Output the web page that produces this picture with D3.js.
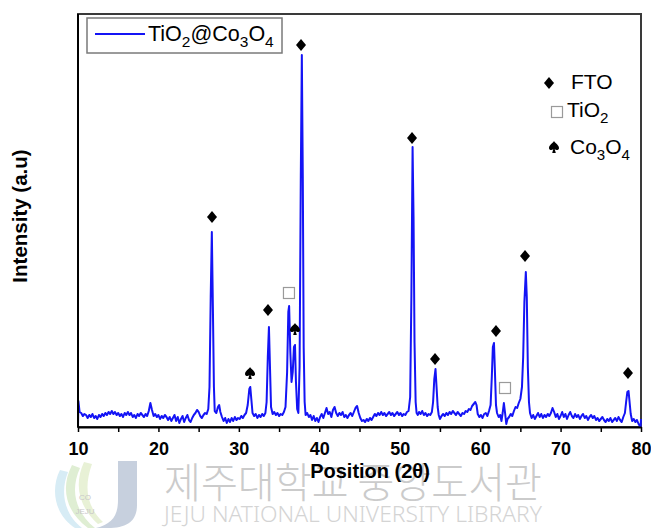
<!DOCTYPE html>
<html><head><meta charset="utf-8">
<script src="https://cdn.jsdelivr.net/npm/d3@7"></script>
<style>body{margin:0;background:#fff}svg{display:block}</style>
</head><body>
<svg id="c" width="651" height="528"></svg>
<script>
// 2θ positions and intensities (a.u.)
const theta = [10.00,10.05,10.2,10.4,10.6,10.8,11.0,11.2,11.4,11.6,11.8,12.0,12.2,12.4,12.6,12.8,13.0,13.2,13.4,13.6,13.8,14.0,14.2,14.4,14.6,14.8,15.0,15.2,15.4,15.6,15.8,16.0,16.2,16.4,16.6,16.8,17.0,17.2,17.4,17.6,17.8,18.0,18.2,18.4,18.6,18.8,19.0,19.2,19.4,19.6,19.8,20.0,20.2,20.4,20.6,20.8,21.0,21.2,21.4,21.6,21.8,22.0,22.2,22.4,22.6,22.8,23.0,23.2,23.4,23.6,23.8,24.0,24.2,24.4,24.6,24.8,25.0,25.2,25.4,25.6,25.8,26.0,26.2,26.35,26.5,26.64,26.77,26.9,27.0,27.2,27.4,27.55,27.7,27.9,28.1,28.3,28.5,28.7,28.9,29.1,29.3,29.5,29.7,29.9,30.1,30.3,30.5,30.7,30.9,31.1,31.3,31.42,31.55,31.7,31.9,32.1,32.3,32.5,32.7,32.9,33.1,33.3,33.45,33.6,33.74,33.87,34.0,34.2,34.4,34.6,34.8,35.0,35.2,35.4,35.6,35.8,36.0,36.15,36.25,36.4,36.55,36.7,36.85,36.98,37.1,37.25,37.4,37.55,37.7,37.83,37.95,38.06,38.18,38.3,38.5,38.7,38.9,39.1,39.3,39.5,39.7,39.9,40.1,40.3,40.5,40.7,40.9,41.1,41.3,41.5,41.7,41.9,42.1,42.3,42.5,42.7,42.9,43.1,43.3,43.5,43.7,43.9,44.1,44.3,44.5,44.7,44.9,45.1,45.3,45.5,45.7,45.9,46.1,46.3,46.5,46.7,46.9,47.1,47.3,47.5,47.7,47.9,48.1,48.3,48.5,48.7,48.9,49.1,49.3,49.5,49.7,49.9,50.1,50.3,50.5,50.7,50.9,51.1,51.3,51.45,51.6,51.72,51.84,51.98,52.1,52.25,52.4,52.6,52.8,53.0,53.2,53.4,53.6,53.8,54.0,54.15,54.3,54.45,54.58,54.72,54.85,55.0,55.2,55.4,55.6,55.8,56.0,56.2,56.4,56.6,56.8,57.0,57.2,57.4,57.6,57.8,58.0,58.2,58.4,58.6,58.8,59.0,59.2,59.4,59.55,59.7,59.9,60.1,60.3,60.5,60.7,60.9,61.1,61.3,61.45,61.58,61.72,61.84,61.97,62.1,62.3,62.5,62.65,62.8,62.95,63.1,63.25,63.4,63.6,63.8,64.0,64.2,64.4,64.6,64.8,65.0,65.2,65.35,65.5,65.68,65.8,65.93,66.07,66.2,66.4,66.6,66.8,67.0,67.2,67.4,67.6,67.8,68.0,68.2,68.4,68.6,68.8,69.0,69.2,69.4,69.6,69.8,70.0,70.2,70.4,70.6,70.8,71.0,71.2,71.4,71.6,71.8,72.0,72.2,72.4,72.6,72.8,73.0,73.2,73.4,73.6,73.8,74.0,74.2,74.4,74.6,74.8,75.0,75.2,75.4,75.6,75.8,76.0,76.2,76.4,76.6,76.8,77.0,77.2,77.4,77.6,77.8,78.0,78.15,78.3,78.45,78.58,78.72,78.9,79.1,79.3,79.5,79.7,79.85,79.95,80.0];
const intensity = [0,26,15,14,11,13,12,9,12,10,13,9,11,8,12,10,13,11,14,12,15,13,16,13,15,12,14,11,13,10,14,12,15,12,14,10,12,9,13,11,14,12,10,13,11,16,24,17,11,13,10,12,8,11,9,12,10,7,10,6,9,12,6,10,4,8,11,5,9,12,7,5,9,12,14,17,15,11,9,12,14,13,18,40,130,195,120,40,16,14,20,22,15,10,6,9,4,8,5,9,6,10,7,9,8,11,9,12,14,22,38,40,28,14,11,13,9,12,10,13,11,14,25,70,100,60,20,13,15,12,14,11,13,12,15,20,55,115,121,75,45,55,80,82,45,18,14,60,250,372,250,80,25,12,14,10,12,7,11,6,9,5,10,13,9,14,19,13,15,10,17,20,14,11,14,12,15,10,12,9,12,14,11,15,19,21,14,9,6,7,5,8,6,9,7,10,13,11,14,12,15,12,14,11,13,15,12,14,11,13,15,12,14,11,13,12,15,16,30,130,280,210,85,25,14,12,15,13,16,12,14,11,13,12,15,25,48,58,40,20,12,8,11,13,11,14,12,15,13,16,14,12,15,13,11,14,13,16,15,18,17,21,23,25,22,13,10,12,9,13,14,11,16,22,50,80,84,55,22,14,10,12,6,14,24,14,3,8,10,13,11,16,20,19,24,28,40,70,125,155,130,60,25,14,9,12,8,11,14,10,13,9,12,10,13,11,14,19,15,10,13,8,11,15,10,13,8,12,15,11,9,13,10,12,8,11,13,9,11,7,10,12,9,11,7,9,6,8,10,7,5,8,6,9,5,7,9,6,10,7,5,10,14,25,35,36,25,13,6,8,5,7,3,1,0,8];

// peak markers: position, phase, marker level (a.u.)
const markerTheta = [26.66,31.39,33.62,36.23,36.98,37.73,51.53,54.39,61.97,63.09,65.58,78.38];
const markerPhase = ["FTO","Co3O4","FTO","TiO2","Co3O4","FTO","FTO","FTO","FTO","TiO2","FTO","FTO"];
const markerLevel = [210,54,117,134,98,382,289,68,96,39,171,54];

const xTicks = [10,15,20,25,30,35,40,45,50,55,60,65,70,75,80];
const xLabels = [10,20,30,40,50,60,70,80];
const legendPhases = ["FTO","TiO2","Co3O4"];

const svg = d3.select("#c");
const M = {l:78, r:641, t:14, b:427};
const x = d3.scaleLinear().domain([10,80]).range([M.l, M.r]);
const y = d3.scaleLinear().domain([0,413]).range([M.b, M.t]);
const FONT = "'Liberation Sans', Arial, Helvetica, sans-serif";

// ---- watermark (behind) ----
const wm = svg.append("g").attr("class","watermark");
wm.append("path").attr("d","M60,470 C50,490 55,515 75,528 L82,528 C64,514 60,492 68,472 Z").attr("fill","#d7ecf5");
wm.append("path").attr("d","M72,465 C60,488 66,512 88,528 L95,528 C75,512 70,490 80,468 Z").attr("fill","#dfeed3");
wm.append("path").attr("d","M84,462 C74,484 78,506 98,524 L103,522 C86,506 84,486 92,464 Z").attr("fill","#e8f1d6");
wm.append("path").attr("d","M118,461 L137,461 L137,505 C137,522 126,528 108,528 L96,528 C112,524 118,516 118,500 Z").attr("fill","#b9c4d6").attr("opacity",0.8);
wm.append("text").attr("x",85).attr("y",500).attr("text-anchor","middle").attr("font-family",FONT).attr("font-size",8).attr("fill","#c8c8c8").text("CO");
wm.append("text").attr("x",85).attr("y",514).attr("text-anchor","middle").attr("font-family",FONT).attr("font-size",8).attr("fill","#c8c8c8").text("JEJU");
wm.append("text").attr("x",164).attr("y",498)
  .attr("textLength",378).attr("lengthAdjust","spacingAndGlyphs")
  .attr("font-family","'Noto Sans CJK KR', sans-serif").attr("font-weight",300).attr("font-size",42)
  .attr("fill","#cbcbcb").text("제주대학교 중앙도서관");
wm.append("text").attr("x",164).attr("y",522)
  .attr("textLength",378).attr("lengthAdjust","spacingAndGlyphs")
  .attr("font-family","'Noto Sans', sans-serif").attr("font-weight",300).attr("font-size",21)
  .attr("fill","#d4d4d4").text("JEJU NATIONAL UNIVERSITY  LIBRARY");

// ---- frame ----
svg.append("rect").attr("x",M.l).attr("y",M.t).attr("width",M.r-M.l).attr("height",M.b-M.t)
  .attr("fill","none").attr("stroke","#3a3a3a").attr("stroke-width",2);

// ---- data line ----
const pts = theta.map((t,i)=>[t,intensity[i]]);
const line = d3.line().x(d=>x(d[0])).y(d=>y(d[1]));
svg.append("path").datum(pts).attr("d",line).attr("fill","none")
  .attr("stroke","#1414f5").attr("stroke-width",2).attr("stroke-linejoin","round");

// ---- axes ----
const xAxis = d3.axisBottom(x).tickValues(xTicks).tickSize(5).tickSizeOuter(0)
  .tickFormat(d=> xLabels.includes(d) ? d : "");
const gx = svg.append("g").attr("transform",`translate(0,${M.b})`).call(xAxis);
gx.select(".domain").attr("stroke","#000").attr("stroke-width",2);
gx.selectAll(".tick line").attr("stroke","#000").attr("stroke-width",1.5);
gx.selectAll(".tick text").attr("font-family",FONT).attr("font-weight","bold")
  .attr("font-size",18).attr("fill","#000").attr("dy","1.1em");
svg.append("line").attr("x1",M.l).attr("x2",M.l).attr("y1",M.t).attr("y2",M.b)
  .attr("stroke","#000").attr("stroke-width",2);

svg.append("text").attr("x",370).attr("y",478).attr("text-anchor","middle")
  .attr("font-family",FONT).attr("font-weight","bold").attr("font-size",20).attr("fill","#000")
  .text("Position (2θ)");
svg.append("text").attr("transform","translate(27,216) rotate(-90)").attr("text-anchor","middle")
  .attr("font-family",FONT).attr("font-weight","bold").attr("font-size",20.5).attr("fill","#000")
  .text("Intensity (a.u)");

// ---- marker shapes ----
const diamondPath = "M0,-6 L5,0 L0,6 L-5,0 Z";
const spadePath = "M0,-6 C1.5,-3.5 5,-2 5,1 C5,3.2 2,3.8 0.7,2 L1.8,6 L-1.8,6 L-0.7,2 C-2,3.8 -5,3.2 -5,1 C-5,-2 -1.5,-3.5 0,-6 Z";
function drawMarker(g, phase){
  if(phase==="FTO") g.append("path").attr("d",diamondPath).attr("fill","#000");
  else if(phase==="Co3O4") g.append("path").attr("d",spadePath).attr("fill","#000");
  else g.append("rect").attr("x",-5.5).attr("y",-5.5).attr("width",11).attr("height",11)
    .attr("fill","#fff").attr("stroke","#9a9a9a").attr("stroke-width",1.2);
}
markerTheta.forEach((t,i)=>{
  const g = svg.append("g").attr("transform",`translate(${x(t)},${y(markerLevel[i])})`);
  drawMarker(g, markerPhase[i]);
});

// ---- right legend ----
const legPos = [[549,83,571,89],[557,112,567,117],[554,147,570,154]];
function labelText(txt){
  if(txt==="TiO2") return [["TiO",0],["2",1]];
  if(txt==="Co3O4") return [["Co",0],["3",1],["O",0],["4",1]];
  return [[txt,0]];
}
function writeLabel(sel, parts, size){
  let sub=false;
  parts.forEach(([s,isSub])=>{
    const ts = sel.append("tspan").text(s);
    if(isSub){ ts.attr("font-size",size*0.72).attr("dy", sub? 0 : size*0.3); sub=true; }
    else { ts.attr("dy", sub? -size*0.3 : 0); sub=false; }
  });
}
legendPhases.forEach((p,i)=>{
  const [mx,my,tx,ty] = legPos[i];
  const g = svg.append("g").attr("transform",`translate(${mx},${my})`);
  drawMarker(g,p);
  const t = svg.append("text").attr("x",tx).attr("y",ty).attr("font-family",FONT)
    .attr("font-size",21).attr("fill","#000");
  writeLabel(t, labelText(p), 21);
});

// ---- series legend ----
svg.append("rect").attr("x",87).attr("y",18).attr("width",195).attr("height",35)
  .attr("fill","#fff").attr("stroke","#7a7a7a").attr("stroke-width",1.5);
svg.append("line").attr("x1",95).attr("x2",145).attr("y1",34).attr("y2",34)
  .attr("stroke","#1414f5").attr("stroke-width",2);
const lt = svg.append("text").attr("x",148).attr("y",41).attr("font-family",FONT)
  .attr("font-size",21.5).attr("fill","#000");
writeLabel(lt, [["TiO",0],["2",1],["@Co",0],["3",1],["O",0],["4",1]], 21.5);
</script>
</body></html>
